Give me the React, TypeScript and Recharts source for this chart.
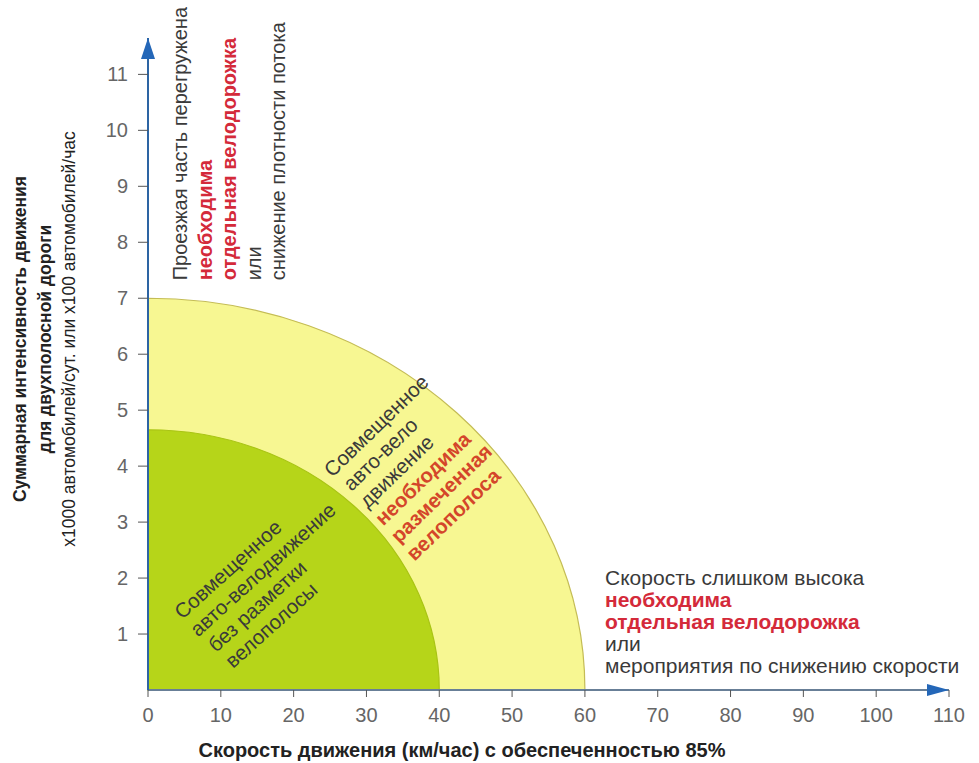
import { ComposedChart, XAxis, YAxis, ReferenceArea, ReferenceDot } from 'recharts'

// axis ticks
const SPEED_TICKS = [0, 10, 20, 30, 40, 50, 60, 70, 80, 90, 100, 110]
const INTENSITY_TICKS = [1, 2, 3, 4, 5, 6, 7, 8, 9, 10, 11]
const X_MAX = 110
const Y_MAX = 11.65

// zones: outer (yellow) first, inner (green) second
const ZONE_SPEED = [60, 40]
const ZONE_INTENSITY = [7, 4.65]

const Y_TITLE = ['Суммарная интенсивность движения', 'для двухполосной дороги', 'x1000 автомобилей/сут. или x100 автомобилей/час']
const X_TITLE = 'Скорость движения (км/час) с обеспеченностью 85%'

const TOP_NOTE = [
  { t: 'Проезжая часть перегружена', hot: false },
  { t: 'необходима', hot: true },
  { t: 'отдельная велодорожка', hot: true },
  { t: 'или', hot: false },
  { t: 'снижение плотности потока', hot: false },
]
const SPEED_NOTE = [
  { t: 'Скорость слишком высока', hot: false },
  { t: 'необходима', hot: true },
  { t: 'отдельная велодорожка', hot: true },
  { t: 'или', hot: false },
  { t: 'мероприятия по снижению скорости', hot: false },
]
const MIXED_NOTE = [
  { t: 'Совмещенное', hot: false },
  { t: 'авто-велодвижение', hot: false },
  { t: 'без разметки', hot: false },
  { t: 'велополосы', hot: false },
]
const LANE_NOTE = [
  { t: 'Совмещенное', hot: false },
  { t: 'авто-вело', hot: false },
  { t: 'движение', hot: false },
  { t: 'необходима', hot: true },
  { t: 'размеченная', hot: true },
  { t: 'велополоса', hot: true },
]

const FONT = "'Liberation Sans', Arial, sans-serif"
const NARROW = "'Liberation Sans Narrow', 'Liberation Sans', Arial, sans-serif"
const DARK = '#3a3a3a'

const ZONE_FILL = ['#f7f792', '#b6d519']
const ZONE_STROKE = ['#c4bc55', '#a9c414']

// quarter ellipse inside the reference area box, centred at its bottom-left corner
const quarter = (i: number) => (p: any) => {
  const { x, y, width: w, height: h } = p
  const d = `M${x},${y + h} L${x},${y} A${w},${h} 0 0 1 ${x + w},${y + h} Z`
  return <path d={d} fill={ZONE_FILL[i]} stroke={ZONE_STROKE[i]} strokeWidth={1.2} />
}

const note = (
  lines: { t: string; hot: boolean }[],
  o: { angle: number; lh: number; size: number; hotColor: string; shifts?: number[] }
) => (p: any) => (
  <g transform={`translate(${p.cx},${p.cy}) rotate(${o.angle})`}>
    <text fontFamily={FONT} fontSize={o.size}>
      {lines.map((l, i) => (
        <tspan
          key={i}
          x={o.shifts ? o.shifts[i] : 0}
          y={i * o.lh}
          fill={l.hot ? o.hotColor : DARK}
          fontWeight={l.hot ? 'bold' : 'normal'}
        >
          {l.t}
        </tspan>
      ))}
    </text>
  </g>
)

const upArrow = (p: any) => (
  <path d={`M${p.cx},${p.cy} L${p.cx - 7},${p.cy + 21} L${p.cx + 7},${p.cy + 21} Z`} fill="#2467b8" />
)
const rightArrow = (p: any) => (
  <path d={`M${p.cx},${p.cy} L${p.cx - 22},${p.cy - 6} L${p.cx - 22},${p.cy + 6} Z`} fill="#2467b8" />
)

const yTitle = (props: any) => {
  const vb = props.viewBox
  const cy = vb.y + vb.height / 2 - 25
  const xs = [26, 51, 75]
  return (
    <g>
      {Y_TITLE.map((t, i) => (
        <text
          key={i}
          transform={`translate(${vb.x + xs[i]},${cy}) rotate(-90)`}
          textAnchor="middle"
          fontFamily={FONT}
          fontSize={17.5}
          fontWeight={i < 2 ? 'bold' : 'normal'}
          fill="#222"
        >
          {t}
        </text>
      ))}
    </g>
  )
}

const xTitle = (props: any) => {
  const vb = props.viewBox
  return (
    <text x={vb.x + 314} y={vb.y + 67} textAnchor="middle" fontFamily={FONT} fontSize={20} fontWeight="bold" fill="#222">
      {X_TITLE}
    </text>
  )
}

export default function App() {
  return (
    <div style={{ position: 'absolute', left: 0, top: 0, background: '#fff' }}>
      <ComposedChart width={979} height={763} data={[]} margin={{ top: 38, right: 30, left: 0, bottom: 0 }}>
        <XAxis
          type="number"
          dataKey="x"
          domain={[0, X_MAX]}
          ticks={SPEED_TICKS}
          interval={0}
          allowDataOverflow
          height={73}
          axisLine={{ stroke: '#687f97', strokeWidth: 2 }}
          tickLine={{ stroke: '#555' }}
          tickSize={7}
          tickMargin={11}
          tick={{ fill: '#666', fontSize: 20, fontFamily: NARROW }}
          label={{ content: xTitle }}
        />
        <YAxis
          type="number"
          dataKey="y"
          domain={[0, Y_MAX]}
          ticks={INTENSITY_TICKS}
          interval={0}
          allowDataOverflow
          width={148}
          axisLine={{ stroke: '#2d64a3', strokeWidth: 2 }}
          tickLine={{ stroke: '#555' }}
          tickSize={10}
          tickMargin={10}
          tick={{ fill: '#666', fontSize: 20, fontFamily: NARROW }}
          label={{ content: yTitle }}
        />
        {ZONE_SPEED.map((s, i) => (
          <ReferenceArea key={i} x1={0} x2={s} y1={0} y2={ZONE_INTENSITY[i]} shape={quarter(i)} ifOverflow="visible" />
        ))}
        <ReferenceDot
          x={5.36}
          y={7.32}
          r={1}
          ifOverflow="visible"
          shape={note(TOP_NOTE, { angle: -90, lh: 24.5, size: 20, hotColor: '#d42a3a' })}
        />
        <ReferenceDot
          x={62.76}
          y={1.875}
          r={1}
          ifOverflow="visible"
          shape={note(SPEED_NOTE, { angle: 0, lh: 22, size: 21, hotColor: '#d42a3a' })}
        />
        <ReferenceDot
          x={4.7}
          y={1.25}
          r={1}
          ifOverflow="visible"
          shape={note(MIXED_NOTE, { angle: -42, lh: 23.5, size: 20.5, hotColor: '#d4462a', shifts: [0, 0, 3, 5] })}
        />
        <ReferenceDot
          x={25.3}
          y={3.79}
          r={1}
          ifOverflow="visible"
          shape={note(LANE_NOTE, { angle: -44, lh: 23.5, size: 20.5, hotColor: '#d4462a', shifts: [0, 4, 4, 3, 2, 1] })}
        />
        <ReferenceDot x={0} y={Y_MAX} r={1} ifOverflow="visible" shape={upArrow} />
        <ReferenceDot x={X_MAX} y={0} r={1} ifOverflow="visible" shape={rightArrow} />
      </ComposedChart>
    </div>
  )
}
